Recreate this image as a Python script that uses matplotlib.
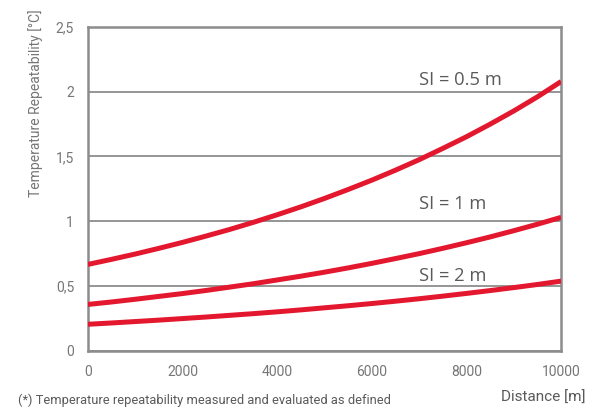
"""Temperature repeatability versus distance for three spatial resolutions."""

import matplotlib.pyplot as plt

distance_m = [0, 500, 1000, 1500, 2000, 2500, 3000, 3500, 4000, 4500, 5000,
              5500, 6000, 6500, 7000, 7500, 8000, 8500, 9000, 9500, 10000]

repeat_si_05 = [0.667, 0.706, 0.747, 0.791, 0.837, 0.886, 0.937, 0.992, 1.050, 1.111, 1.176,
                1.245, 1.317, 1.394, 1.475, 1.562, 1.652, 1.749, 1.851, 1.960, 2.078]
repeat_si_1 = [0.358, 0.377, 0.398, 0.420, 0.442, 0.466, 0.492, 0.518, 0.547, 0.576, 0.607,
               0.640, 0.675, 0.712, 0.750, 0.791, 0.834, 0.879, 0.927, 0.977, 1.030]
repeat_si_2 = [0.205, 0.215, 0.226, 0.237, 0.249, 0.261, 0.274, 0.287, 0.301, 0.316, 0.332,
               0.348, 0.365, 0.383, 0.402, 0.422, 0.443, 0.465, 0.488, 0.512, 0.538]

series_labels = ["SI = 0.5 m", "SI = 1 m", "SI = 2 m"]
label_y = [2.02, 1.06, 0.505]

y_ticks = [0, 0.5, 1, 1.5, 2, 2.5]
y_tick_labels = ["0", "0,5", "1", "1,5", "2", "2,5"]
x_ticks = [0, 2000, 4000, 6000, 8000, 10000]

RED = "#e3182f"
GRID_GREY = "#8c8c8c"
TEXT_GREY = "#5a5a5a"
TICK_GREY = "#767676"

fig = plt.figure(figsize=(5.9, 4.07), dpi=100)
ax = fig.add_axes([0.149, 0.138, 0.802, 0.796])

for values in (repeat_si_05, repeat_si_1, repeat_si_2):
    ax.plot(distance_m, values, color=RED, linewidth=3.6, solid_capstyle="butt",
            solid_joinstyle="round", zorder=3)

for text, y in zip(series_labels, label_y):
    ax.text(7000, y, text, fontsize=13.2, family="Open Sans", color=TEXT_GREY,
            ha="left", va="bottom", zorder=2)

ax.set_xlim(0, 10000)
ax.set_ylim(0, 2.5)
ax.set_yticks(y_ticks)
ax.set_yticklabels(y_tick_labels)
ax.set_xticks(x_ticks)
ax.tick_params(length=0, pad=10, labelsize=10, labelcolor=TICK_GREY)
for label in ax.get_xticklabels() + ax.get_yticklabels():
    label.set_family("Roboto")

ax.grid(axis="y", color=GRID_GREY, linewidth=1.3, zorder=1)
for spine in ax.spines.values():
    spine.set_color(GRID_GREY)
    spine.set_linewidth(1.8)

fig.text(0.06, 0.977, "Temperature Repeatability [°C]", rotation=90, ha="center", va="top",
         fontsize=10, family="Roboto", color=TICK_GREY)
fig.text(0.992, 0.006, "Distance [m]", ha="right", va="bottom", fontsize=11,
         family="Roboto", color=TEXT_GREY)
fig.text(0.03, 0.0, "(*) Temperature repeatability measured and evaluated as defined",
         ha="left", va="bottom", fontsize=9.3, family="Roboto", color=TEXT_GREY)

fig.savefig("out.png", dpi=100)
